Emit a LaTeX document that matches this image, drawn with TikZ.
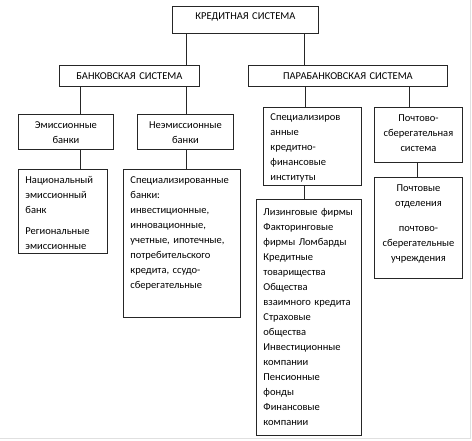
\documentclass[tikz,border=0pt]{standalone}
\usepackage{fontspec}
\setmainfont{Carlito}
\begin{document}
\begin{tikzpicture}[x=1pt,y=-1pt,
  box/.style={draw=black!85, line width=0.9pt, text=black, inner xsep=7pt, inner ysep=0pt,
    anchor=north west, font=\fontsize{10.5}{15}\selectfont},
  lbox/.style={box, align=left},
  cbox/.style={box, align=center},
  conn/.style={draw=black!85, line width=0.9pt}]
\useasboundingbox (0,0) rectangle (472,440);
\draw[black!12, line width=1.5pt] (470.5,0) -- (470.5,438.5) -- (0,438.5);

\node[cbox, text width=132pt, text height=13pt, text depth=14pt] (kred) at (172,6) {КРЕДИТНАЯ СИСТЕМА};
\node[cbox, text width=126pt, text height=14pt, text depth=7pt] (bank) at (59,65) {БАНКОВСКАЯ СИСТЕМА};
\node[cbox, text width=185pt, text height=14pt, text depth=7pt] (para) at (248,65) {ПАРАБАНКОВСКАЯ СИСТЕМА};

\node[cbox, text width=81pt, text height=14pt, text depth=21pt] (emis) at (18,114) {Эмиссионные\\банки};
\node[cbox, text width=82pt, text height=14pt, text depth=21pt] (neemis) at (137,114) {Неэмиссионные\\банки};

\node[lbox, text width=75pt, text height=14pt, text depth=70pt] (nac) at (18,169) {Национальный\\эмиссионный\\банк\\[6pt]Региональные\\эмиссионные};
\node[lbox, text width=103pt, text height=14pt, text depth=134pt] (spb) at (123,169) {Специализированные\\банки:\\инвестиционные,\\инновационные,\\учетные, ипотечные,\\потребительского\\кредита, ссудо-\\сберегательные};

\node[lbox, text width=84pt, text height=13.5pt, text depth=64.5pt] (spi) at (263,107) {Специализиров\\анные\\кредитно-\\финансовые\\институты};
\node[cbox, text width=74pt, text height=14pt, text depth=41pt] (pss) at (374,107) {Почтово-\\сберегательная\\система};
\node[cbox, text width=74pt, text height=14pt, text depth=87pt] (pochta) at (374,177) {Почтовые\\отделения\\[10.5pt]почтово-\\сберегательные\\учреждения};
\node[lbox, text width=91pt, text height=16pt, text depth=220pt] (liz) at (256,199) {Лизинговые фирмы\\Факторинговые\\фирмы Ломбарды\\Кредитные\\товарищества\\Общества\\взаимного кредита\\Страховые\\общества\\Инвестиционные\\компании\\Пенсионные\\фонды\\Финансовые\\компании};

\coordinate (xa) at (186,0);
\coordinate (xb) at (304,0);
\coordinate (xc) at (80,0);
\coordinate (xd) at (305,0);
\coordinate (xe) at (409.5,0);
\coordinate (xf) at (417,0);

\path[conn] (kred.south -| xa) -- (bank.north -| xa);
\path[conn] (kred.south -| xb) -- (para.north -| xb);
\path[conn] (bank.south -| xc) -- (emis.north -| xc);
\path[conn] (bank.south -| xa) -- (neemis.north -| xa);
\path[conn] (emis.south -| xc) -- (nac.north -| xc);
\path[conn] (neemis.south -| xa) -- (spb.north -| xa);
\path[conn] (para.south -| xd) -- (spi.north -| xd);
\path[conn] (para.south -| xe) -- (pss.north -| xe);
\path[conn] (spi.south -| xb) -- (liz.north -| xb);
\path[conn] (pss.south -| xf) -- (pochta.north -| xf);
\end{tikzpicture}
\end{document}
